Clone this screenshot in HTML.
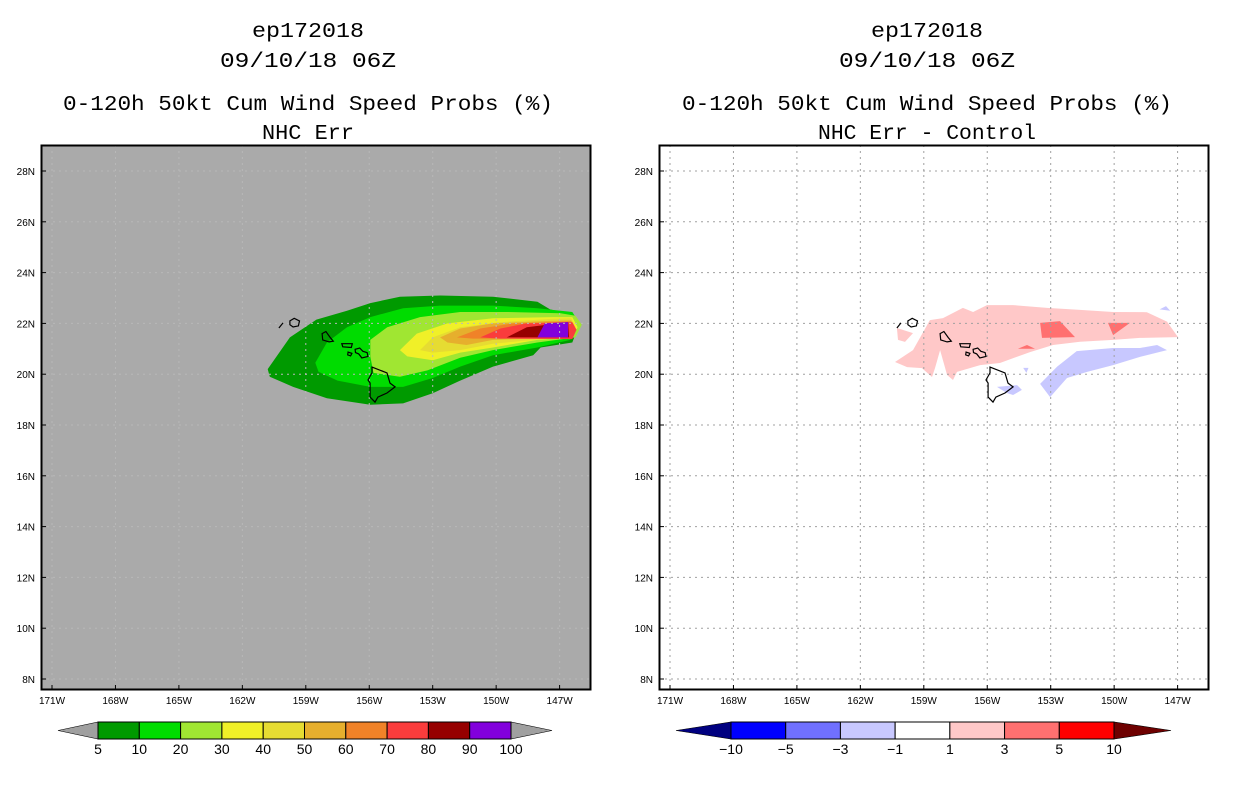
<!DOCTYPE html>
<html><head><meta charset="utf-8"><style>
html,body{margin:0;padding:0;background:#fff;width:1236px;height:800px;overflow:hidden}
svg{display:block}
</style></head><body>
<svg id="chart" width="1236" height="800" xmlns="http://www.w3.org/2000/svg" font-family="Liberation Mono, monospace"></svg>
<script>
// ---- data ----
const lonTicks = [-171,-168,-165,-162,-159,-156,-153,-150,-147];
const lonTickLabels = ["171W","168W","165W","162W","159W","156W","153W","150W","147W"];
const latTicks = [8,10,12,14,16,18,20,22,24,26,28];
const latTickLabels = ["8N","10N","12N","14N","16N","18N","20N","22N","24N","26N","28N"];

const probLevels = ["5","10","20","30","40","50","60","70","80","90","100"];
const probColors = ["#009a00","#00dc00","#a0e632","#f0f028","#e6dc32","#e6af2d","#f08228","#fa3c3c","#960000","#8200dc"];
const diffLevels = ["-10","-5","-3","-1","1","3","5","10"];
const diffColors = ["#0000ff","#7070ff","#c8c8ff","#ffffff","#ffc8c8","#ff7070","#ff0000"];

const prob5 = [[-160.8,20.2],[-159.75,21.45],[-158.5,22.15],[-157.05,22.5],[-155.95,22.8],[-154.55,23.05],[-152.65,23.1],[-150.15,23.05],[-148.05,22.85],[-147.45,22.55],[-146.4,22.35],[-146.05,22.0],[-146.4,21.25],[-147.9,21.05],[-148.25,20.75],[-150.15,20.3],[-151.7,19.75],[-153.0,19.25],[-154.4,18.85],[-155.95,18.8],[-158.0,19.05],[-159.6,19.5],[-160.7,19.9]];
const prob10 = [[-158.55,20.45],[-158.0,21.25],[-157.05,21.85],[-155.95,22.25],[-154.4,22.6],[-152.65,22.7],[-150.15,22.7],[-148.05,22.6],[-146.4,22.45],[-146.05,22.0],[-146.5,21.35],[-148.05,21.05],[-150.15,20.75],[-151.7,20.3],[-153.0,19.85],[-154.4,19.5],[-155.95,19.5],[-157.5,19.75],[-158.4,20.1]];
const prob20 = [[-155.95,21.35],[-155.15,21.85],[-153.6,22.25],[-151.7,22.45],[-149.5,22.45],[-146.95,22.4],[-146.25,22.3],[-145.95,21.95],[-146.25,21.45],[-148.05,21.25],[-150.15,20.95],[-151.7,20.65],[-153.25,20.15],[-154.55,19.9],[-155.8,20.05],[-155.95,20.7]];
const prob30 = [[-154.55,20.95],[-153.75,21.6],[-152.3,22.0],[-150.15,22.2],[-147.3,22.25],[-146.4,22.25],[-146.15,21.85],[-146.4,21.45],[-148.05,21.35],[-150.15,21.05],[-151.7,20.85],[-153.0,20.55],[-154.2,20.7]];
const prob40 = [[-153.6,20.95],[-153.0,21.45],[-151.7,21.85],[-149.8,22.05],[-147.3,22.18],[-146.45,22.2],[-146.25,21.85],[-146.45,21.45],[-147.3,21.42],[-150.15,21.2],[-151.7,20.95],[-153.0,20.85]];
const prob50 = [[-152.65,21.45],[-151.7,21.8],[-150.15,22.0],[-147.45,22.1],[-146.45,22.12],[-146.3,21.85],[-146.45,21.45],[-147.45,21.42],[-150.15,21.35],[-151.4,21.15],[-152.3,21.25]];
const prob60 = [[-151.85,21.45],[-150.75,21.8],[-149.2,22.0],[-147.3,22.05],[-146.45,22.08],[-146.35,21.8],[-146.45,21.42],[-147.3,21.42],[-149.8,21.4],[-151.1,21.4]];
const prob70 = [[-150.75,21.45],[-149.8,21.8],[-148.55,22.0],[-146.4,22.05],[-146.2,21.75],[-146.4,21.38],[-149.8,21.4]];
const prob80 = [[-149.5,21.45],[-148.55,21.85],[-146.6,22.05],[-146.55,21.45]];
const prob90 = [[-148.05,21.45],[-147.7,22.0],[-146.6,22.05],[-146.6,21.45]];
const probContours = [prob5,prob10,prob20,prob30,prob40,prob50,prob60,prob70,prob80,prob90];

const diffPink1 = [[-160.36,20.48],[-159.51,20.95],[-158.71,22.13],[-158.09,22.21],[-157.15,22.61],[-156.67,22.45],[-156.01,22.72],[-154.78,22.72],[-153.17,22.61],[-151.61,22.53],[-150.05,22.45],[-148.45,22.44],[-147.5,22.07],[-146.98,21.46],[-148.78,21.43],[-150.05,21.35],[-151.61,21.28],[-152.89,21.15],[-153.98,20.87],[-155.4,20.44],[-156.34,20.36],[-157.43,20.09],[-157.62,19.77],[-157.9,19.97],[-158.23,20.95],[-158.47,20.24],[-158.61,19.89],[-159.09,20.24],[-159.79,20.28]];
const diffPink2 = [[-160.27,21.82],[-159.51,21.62],[-159.89,21.27],[-160.22,21.35]];
const diffRed1 = [[-153.5,22.02],[-152.56,22.09],[-151.85,21.46],[-153.41,21.43]];
const diffRed2 = [[-150.29,22.02],[-149.25,22.02],[-150.05,21.54]];
const diffRed3 = [[-154.55,21.0],[-153.74,21.0],[-154.12,21.15]];
const diffBlue1 = [[-153.5,19.62],[-152.7,20.29],[-151.77,20.91],[-150.05,21.03],[-148.78,21.03],[-147.97,21.15],[-147.5,20.95],[-148.78,20.68],[-150.05,20.36],[-151.28,20.09],[-152.23,19.85],[-153.03,19.1]];
const diffBlue2 = [[-155.54,19.5],[-154.59,19.57],[-154.36,19.38],[-154.78,19.18],[-155.07,19.26]];
const diffBlue3 = [[-147.85,22.55],[-147.35,22.5],[-147.55,22.68]];
const diffBlue4 = [[-154.3,20.25],[-154.05,20.25],[-154.15,20.05]];

const islands = {
  "big-island":[[-155.87,20.28],[-155.16,20.05],[-155.02,19.65],[-154.78,19.5],[-155.16,19.26],[-155.59,19.1],[-155.73,18.9],[-155.96,19.1],[-155.96,19.65],[-156.06,19.77],[-155.87,20.05]],
  "maui":[[-156.67,20.98],[-156.45,21.03],[-156.3,20.9],[-156.1,20.85],[-156.06,20.7],[-156.35,20.64],[-156.5,20.8],[-156.65,20.85]],
  "molokai":[[-157.3,21.2],[-156.8,21.2],[-156.85,21.05],[-157.25,21.08]],
  "lanai":[[-157.0,20.87],[-156.82,20.82],[-156.88,20.72],[-157.02,20.76]],
  "oahu":[[-158.23,21.6],[-158.05,21.68],[-157.85,21.45],[-157.7,21.3],[-157.9,21.27],[-158.2,21.35]],
  "kauai":[[-159.75,22.1],[-159.55,22.2],[-159.3,22.1],[-159.35,21.9],[-159.6,21.86],[-159.75,21.95]],
  "niihau":[[-160.27,21.82],[-160.08,22.02]]
};

// ---- layout ----
const svg = document.getElementById('chart');
const NS = 'http://www.w3.org/2000/svg';
function mk(tag, attrs, parent){ const e=document.createElementNS(NS,tag); for(const k in attrs) e.setAttribute(k,attrs[k]); (parent||svg).appendChild(e); return e; }

const panels = [
  {ox:0, x0:41, x1:591, lon171:52, bg:'#aaaaaa', grid:'#b8b8b8', name:'left'},
  {ox:618, x0:659, x1:1209, lon171:670, bg:'#ffffff', grid:'#a0a0a0', name:'right'}
];
const Y0=145, Y1=690, PXDEG=21.15, PYDEG=25.4;
function xs(p, lon){ return p.lon171 + (lon+171)*PXDEG; }
function ys(lat){ return 679 - (lat-8)*PYDEG; }
function pts(p, arr){ return arr.map(d=>xs(p,d[0]).toFixed(1)+','+ys(d[1]).toFixed(1)).join(' '); }

function titleText(x,y,str,w,name){
  const t=mk('text',{x:x,y:y,'text-anchor':'middle','font-size':21,fill:'#000',textLength:w,lengthAdjust:'spacingAndGlyphs'});
  t.textContent=str;
  
  
}

function drawPanel(p, contours){
  const g=mk('g',{});
  
  
  const clipId='clip-'+p.name;
  const cp=mk('clipPath',{id:clipId},g); mk('rect',{x:p.x0,y:Y0,width:p.x1-p.x0,height:Y1-Y0},cp);
  const bg=mk('rect',{x:p.x0,y:Y0,width:p.x1-p.x0,height:Y1-Y0,fill:p.bg},g);
  
  
  const cg=mk('g',{'clip-path':'url(#'+clipId+')'},g);
  contours.forEach((c,i)=>{
    const pl=mk('polygon',{points:pts(p,c.d),fill:c.color},cg);
    
    
  });
  lonTicks.forEach(lon=>{
    const l=mk('line',{x1:xs(p,lon),x2:xs(p,lon),y1:Y0,y2:Y1,stroke:p.grid,'stroke-width':1,'stroke-dasharray':'2,4'},cg);
    
    
  });
  latTicks.forEach(lat=>{
    const l=mk('line',{x1:p.x0,x2:p.x1,y1:ys(lat),y2:ys(lat),stroke:p.grid,'stroke-width':1,'stroke-dasharray':'2,4'},cg);
    
    
  });
  for(const k in islands){
    const tag = islands[k].length>2?'polygon':'polyline';
    const il=mk(tag,{points:pts(p,islands[k]),fill:'none',stroke:'#000','stroke-width':1.2},cg);
    
    
  }
  const fr=mk('rect',{x:p.x0+0.5,y:Y0+0.5,width:p.x1-p.x0-1,height:Y1-Y0-1,fill:'none',stroke:'#000','stroke-width':2},g);
  
  
  lonTicks.forEach((lon,i)=>{
    mk('line',{x1:xs(p,lon),x2:xs(p,lon),y1:Y1-1,y2:Y1-5,stroke:'#000'},g);
    const t=mk('text',{x:xs(p,lon),y:Y1+14,'text-anchor':'middle','font-size':10,'font-family':'Liberation Sans, sans-serif',fill:'#000'},g);
    t.textContent=lonTickLabels[i];
    
    
  });
  latTicks.forEach((lat,i)=>{
    mk('line',{x1:p.x0+1,x2:p.x0+5,y1:ys(lat),y2:ys(lat),stroke:'#000'},g);
    const t=mk('text',{x:p.x0-6,y:ys(lat)+4,'text-anchor':'end','font-size':10,'font-family':'Liberation Sans, sans-serif',fill:'#000'},g);
    t.textContent=latTickLabels[i];
    
    
  });
}

const leftContours = probContours.map((d,i)=>({d:d,color:probColors[i],name:'prob-contour-'+probLevels[i]}));
drawPanel(panels[0], leftContours);
const rightContours = [
  {d:diffPink1,color:diffColors[4],name:'diff-contour-1to3-main'},
  {d:diffPink2,color:diffColors[4],name:'diff-contour-1to3-west'},
  {d:diffRed1,color:diffColors[5],name:'diff-contour-3to5-a'},
  {d:diffRed2,color:diffColors[5],name:'diff-contour-3to5-b'},
  {d:diffRed3,color:diffColors[5],name:'diff-contour-3to5-c'},
  {d:diffBlue1,color:diffColors[2],name:'diff-contour-neg-main'},
  {d:diffBlue2,color:diffColors[2],name:'diff-contour-neg-south'},
  {d:diffBlue3,color:diffColors[2],name:'diff-contour-neg-east'},
  {d:diffBlue4,color:diffColors[2],name:'diff-contour-neg-small'}
];
drawPanel(panels[1], rightContours);

titleText(308,37,'ep172018',112,'left-title-storm');
titleText(308,67,'09/10/18 06Z',176,'left-title-date');
titleText(308,110,'0-120h 50kt Cum Wind Speed Probs (%)',490,'left-title-product');
titleText(308,139,'NHC Err',92,'left-title-subtitle');
titleText(927,37,'ep172018',112,'right-title-storm');
titleText(927,67,'09/10/18 06Z',176,'right-title-date');
titleText(927,110,'0-120h 50kt Cum Wind Speed Probs (%)',490,'right-title-product');
titleText(927,139,'NHC Err - Control',218,'right-title-subtitle');

function colorbar(name, bx0, bx1, tipL, tipR, colors, labels, lowColor, highColor){
  const g=mk('g',{});
  
  
  const yT=722, yB=739, ym=(yT+yB)/2;
  const w=(bx1-bx0)/colors.length;
  const lt=mk('polygon',{points:`${tipL},${ym} ${bx0},${yT} ${bx0},${yB}`,fill:lowColor,stroke:'#000','stroke-width':0.6},g);
  
  
  const rt=mk('polygon',{points:`${tipR},${ym} ${bx1},${yT} ${bx1},${yB}`,fill:highColor,stroke:'#000','stroke-width':0.6},g);
  
  
  colors.forEach((c,i)=>{
    const r=mk('rect',{x:bx0+i*w,y:yT,width:w,height:yB-yT,fill:c,stroke:'#000','stroke-width':1},g);
    
    
  });
  labels.forEach((s,i)=>{
    const t=mk('text',{x:bx0+i*w,y:754,'text-anchor':'middle','font-size':14,'font-family':'Liberation Sans, sans-serif',fill:'#000'},g);
    t.textContent=s.replace('-','\u2212');
    
    
  });
}
colorbar('prob-colorbar',98,511,58,552,probColors,probLevels,'#a0a0a0','#a0a0a0');
colorbar('diff-colorbar',731,1114,676,1171,diffColors,diffLevels,'#000080','#6e0000');
</script>
</body></html>
